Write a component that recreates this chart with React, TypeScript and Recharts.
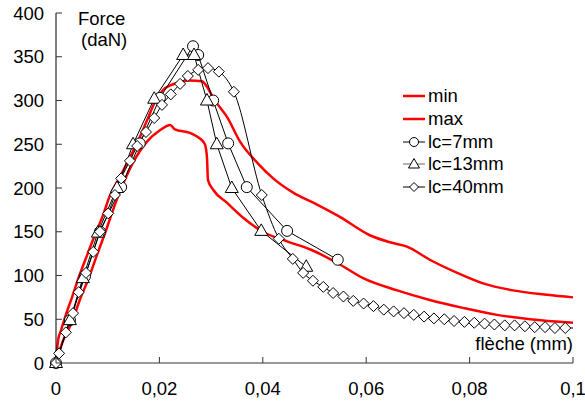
import React from 'react'
import { LineChart, Line, XAxis, YAxis, Legend } from 'recharts'

const FONT = '"Liberation Sans", Arial, sans-serif'
const RED = '#ff0000'

// axis ticks
const flecheTicks = [0, 0.02, 0.04, 0.06, 0.08, 0.1]
const forceTicks = [0, 50, 100, 150, 200, 250, 300, 350, 400]

// red envelope curves
const minFleche = [0, 0.0012, 0.0031, 0.0046, 0.0064, 0.0079, 0.0097, 0.0114, 0.013, 0.0149, 0.0176, 0.0201, 0.0221, 0.023, 0.0259, 0.0275, 0.0288, 0.0292, 0.0294, 0.0304, 0.0331, 0.0362, 0.04, 0.0447, 0.0491, 0.0545, 0.0594, 0.066, 0.0723, 0.0787, 0.0853, 0.0917, 0.1]
const minForce = [0, 23, 47, 72, 98, 123, 152, 181, 205, 229, 253, 266, 272, 267, 263, 258, 250, 235, 209, 198, 183, 166, 150, 139, 130, 114, 97, 83, 72, 63, 55, 50, 46]

const maxFleche = [0, 0.0004, 0.001, 0.0019, 0.0031, 0.0044, 0.006, 0.0075, 0.0091, 0.0104, 0.0124, 0.0143, 0.0162, 0.0178, 0.0191, 0.0207, 0.0224, 0.024, 0.0259, 0.0282, 0.0294, 0.0304, 0.0311, 0.0331, 0.0356, 0.0389, 0.042, 0.0458, 0.0505, 0.0549, 0.0607, 0.0646, 0.0679, 0.0723, 0.0776, 0.0826, 0.0884, 0.095, 0.1]
const maxForce = [0, 26, 38, 55, 75, 98, 123, 146, 169, 191, 213, 235, 258, 280, 298, 312, 318, 321, 323, 322, 314, 303, 297, 281, 253, 229, 211, 195, 181, 167, 146, 138, 133, 118, 103, 91, 83, 78, 75]

// tests
const lc7Fleche = [0, 0.0027, 0.0056, 0.0085, 0.0126, 0.0162, 0.0201, 0.0265, 0.0275, 0.0304, 0.0333, 0.0369, 0.0447, 0.0545]
const lc7Force = [0, 49, 99, 150, 201, 251, 303, 362, 352, 300, 251, 201, 151, 118]

const lc13Fleche = [0, 0.0027, 0.0052, 0.0081, 0.0118, 0.0149, 0.019, 0.0246, 0.0267, 0.0292, 0.0311, 0.034, 0.0397, 0.0484]
const lc13Force = [0, 49, 97, 149, 200, 250, 302, 352, 352, 300, 250, 200, 151, 110]

// last value has no marker (curve runs on to the axis end)
const lc40Fleche = [0, 0.0006, 0.0019, 0.0033, 0.0044, 0.0058, 0.0072, 0.0085, 0.0101, 0.0114, 0.0126, 0.0143, 0.0157, 0.0174, 0.019, 0.0205, 0.0222, 0.024, 0.0255, 0.0275, 0.0294, 0.0315, 0.0344, 0.0398, 0.0431, 0.0458, 0.0478, 0.0497, 0.0517, 0.0536, 0.0556, 0.0575, 0.0595, 0.0614, 0.0634, 0.0653, 0.0673, 0.0692, 0.0712, 0.0731, 0.0751, 0.077, 0.079, 0.0809, 0.0829, 0.0848, 0.0868, 0.0887, 0.0907, 0.0926, 0.0946, 0.0965, 0.0985, 0.1]
const lc40Force = [0, 11, 35, 57, 81, 103, 127, 150, 171, 192, 211, 231, 248, 264, 280, 295, 307, 319, 328, 335, 337, 333, 310, 192, 142, 119, 103, 94, 87, 80, 76, 71, 68, 65, 61, 59, 57, 55, 53, 51, 50, 48, 47, 46, 45, 44, 43, 43, 42, 41, 41, 40, 40, 40]

const toPoints = (xs: number[], ys: number[]) => xs.map((x, i) => ({ x, y: ys[i] }))

const formatFleche = (v: number) => (v === 0 ? '0' : String(v).replace('.', ','))

const CircleDot = ({ cx, cy, index }: any) => (
  <circle key={`c-${index}`} cx={cx} cy={cy} r={5.5} fill="#fff" stroke="#000" strokeWidth={1} />
)

const TriangleDot = ({ cx, cy, index }: any) => (
  <polygon
    key={`t-${index}`}
    points={`${cx},${cy - 7} ${cx - 6.5},${cy + 4.5} ${cx + 6.5},${cy + 4.5}`}
    fill="#fff"
    stroke="#000"
    strokeWidth={1}
  />
)

const DiamondDot = ({ cx, cy, index }: any) => {
  if (index === lc40Fleche.length - 1) return <g key={`d-${index}`} />
  return (
    <polygon
      key={`d-${index}`}
      points={`${cx},${cy - 5.5} ${cx + 5.5},${cy} ${cx},${cy + 5.5} ${cx - 5.5},${cy}`}
      fill="#fff"
      stroke="#000"
      strokeWidth={1}
    />
  )
}

// ticks point inside the plot, so they are drawn here
const XTick = ({ x, y, payload }: any) => (
  <g>
    <line x1={x} x2={x} y1={y - 19} y2={y - 25} stroke="#333" />
    <text x={x} y={y} dy="0.71em" textAnchor="middle" fontSize={18.5} fontFamily={FONT} fill="#000">
      {formatFleche(payload.value)}
    </text>
  </g>
)

const YTick = ({ x, y, payload }: any) => (
  <g>
    <line x1={x + 12} x2={x + 18} y1={y} y2={y} stroke="#333" />
    <text x={x} y={y} dy="0.36em" textAnchor="end" fontSize={18.5} fontFamily={FONT} fill="#000">
      {payload.value}
    </text>
  </g>
)

const legendItems = [
  { name: 'min', kind: 'red' },
  { name: 'max', kind: 'red' },
  { name: 'lc=7mm', kind: 'circle' },
  { name: 'lc=13mm', kind: 'triangle' },
  { name: 'lc=40mm', kind: 'diamond' }
]

const LegendIcon = ({ kind }: { kind: string }) => {
  if (kind === 'red') {
    return (
      <svg width={24} height={14}>
        <line x1={1} x2={23} y1={7} y2={7} stroke={RED} strokeWidth={2.5} />
      </svg>
    )
  }
  return (
    <svg width={24} height={14}>
      <line x1={1} x2={23} y1={7} y2={7} stroke={kind === 'triangle' ? '#666' : '#000'} strokeWidth={1} />
      {kind === 'circle' && <circle cx={12} cy={7} r={4.5} fill="#fff" stroke="#000" />}
      {kind === 'triangle' && <polygon points="12,1.5 6.5,11 17.5,11" fill="#fff" stroke="#000" />}
      {kind === 'diamond' && <polygon points="12,2.5 16.5,7 12,11.5 7.5,7" fill="#fff" stroke="#000" />}
    </svg>
  )
}

const renderLegend = () => (
  <div style={{ fontFamily: FONT, fontSize: 18.5, color: '#000' }}>
    {legendItems.map((item) => (
      <div key={item.name} style={{ display: 'flex', alignItems: 'center', height: 22.7 }}>
        <LegendIcon kind={item.kind} />
        <span style={{ marginLeft: 2, lineHeight: '22px' }}>{item.name}</span>
      </div>
    ))}
  </div>
)

export default function App() {
  return (
    <div style={{ position: 'absolute', left: 0, top: 0 }}>
      <LineChart width={585} height={403} margin={{ top: 13, right: 12, bottom: 10, left: 6 }}>
        <XAxis
          type="number"
          dataKey="x"
          domain={[0, 0.1]}
          ticks={flecheTicks}
          interval={0}
          height={30}
          tickSize={6}
          tickMargin={13}
          tickLine={false}
          tick={<XTick />}
          axisLine={{ stroke: '#333' }}
          label={{
            content: () => (
              <text x={573} y={350} textAnchor="end" fontSize={18.5} fontFamily={FONT} fill="#000">
                flèche (mm)
              </text>
            )
          }}
        />
        <YAxis
          type="number"
          domain={[0, 400]}
          ticks={forceTicks}
          interval={0}
          width={50}
          tickSize={6}
          tickMargin={6}
          tickLine={false}
          tick={<YTick />}
          axisLine={{ stroke: '#000' }}
          label={{
            content: () => (
              <text fontSize={18.5} fontFamily={FONT} fill="#000">
                <tspan x={78} y={25}>Force</tspan>
                <tspan x={81} y={46}>(daN)</tspan>
              </text>
            )
          }}
        />
        <Legend
          layout="vertical"
          align="center"
          verticalAlign="middle"
          content={renderLegend}
          wrapperStyle={{ left: 402, top: 85, width: 150 }}
        />
        <Line data={toPoints(minFleche, minForce)} dataKey="y" name="min" type="monotone" stroke={RED} strokeWidth={2.5} dot={false} isAnimationActive={false} />
        <Line data={toPoints(maxFleche, maxForce)} dataKey="y" name="max" type="monotone" stroke={RED} strokeWidth={2.5} dot={false} isAnimationActive={false} />
        <Line data={toPoints(lc7Fleche, lc7Force)} dataKey="y" name="lc=7mm" type="linear" stroke="#000" strokeWidth={1} dot={CircleDot} isAnimationActive={false} />
        <Line data={toPoints(lc13Fleche, lc13Force)} dataKey="y" name="lc=13mm" type="linear" stroke="#000" strokeWidth={1} dot={TriangleDot} isAnimationActive={false} />
        <Line data={toPoints(lc40Fleche, lc40Force)} dataKey="y" name="lc=40mm" type="monotone" stroke="#000" strokeWidth={1} dot={DiamondDot} isAnimationActive={false} />
      </LineChart>
    </div>
  )
}
